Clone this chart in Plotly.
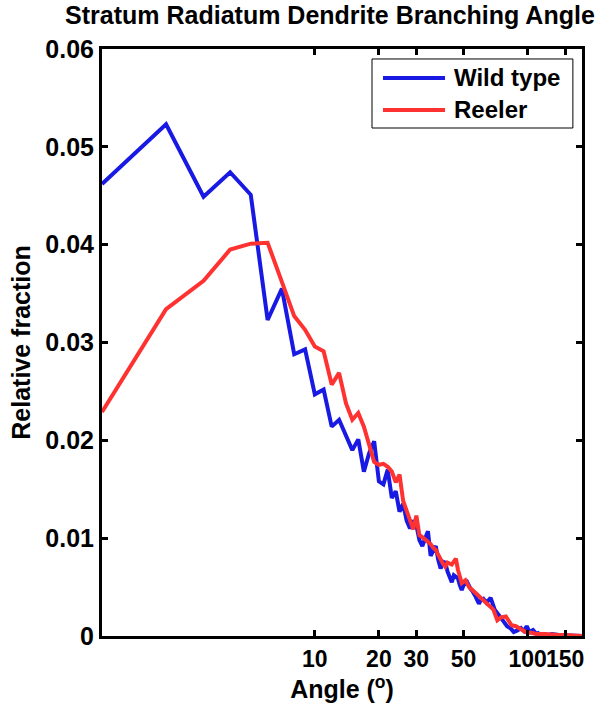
import plotly.graph_objects as go
import math

# Wild type (blue)
wt_angle = [1, 2, 3, 4, 5, 6, 7, 8, 9, 10, 11, 12, 13, 14, 15, 16, 17, 18, 19, 20,
            21, 22, 23, 24, 25, 26, 27, 28, 29, 30, 31, 32, 33, 34, 35, 36, 37, 38, 39, 40,
            41, 42, 43, 44, 45, 46, 47, 48, 49, 50, 52, 54, 55, 57, 59, 60, 62, 64, 67, 70,
            72, 74, 77, 80, 83, 86, 90, 93, 96, 99, 102, 106, 110, 112, 115, 120, 125, 130,
            140, 150, 160, 170, 180]
wt_frac = [0.0462, 0.0523, 0.0449, 0.0474, 0.0451, 0.0323, 0.0355, 0.0288, 0.0293, 0.0247,
           0.0252, 0.0214, 0.0221, 0.0206, 0.0190, 0.0201, 0.0168, 0.0187, 0.0199, 0.0158,
           0.0155, 0.0170, 0.0141, 0.0148, 0.0127, 0.0135, 0.0118, 0.0110, 0.0118, 0.0113,
           0.0098, 0.0092, 0.0100, 0.0107, 0.0082, 0.0088, 0.0092, 0.0078, 0.0069, 0.0076,
           0.0075, 0.0066, 0.0060, 0.0055, 0.0062, 0.0060, 0.0059, 0.0052, 0.0047, 0.0052,
           0.0055, 0.0048, 0.0046, 0.0040, 0.0033, 0.0036, 0.0038, 0.0034, 0.0039, 0.0027,
           0.0024, 0.0020, 0.0015, 0.0010, 0.0008, 0.0004, 0.0006, 0.0008, 0.0005, 0.0010,
           0.0004, 0.0006, 0.0002, 0.0003, 0.0001, 0.0002, 0.0001, 0.0002, 0.0001, 0.0001,
           0.0000, 0.0001, 0.0000]

# Reeler (red)
rl_angle = [1, 2, 3, 4, 5, 6, 7, 8, 9, 10, 11, 12, 13, 14, 15, 16, 17, 18, 19, 20,
            21, 22, 23, 24, 25, 26, 27, 28, 29, 30, 31, 32, 33, 34, 35, 36, 37, 38, 39, 40,
            41, 42, 44, 46, 47, 48, 49, 51, 53, 55, 57, 60, 62, 65, 67, 69, 72, 75, 79, 82,
            84, 88, 91, 95, 98, 105, 110, 120, 130, 140, 150, 160, 170, 180]
rl_frac = [0.0229, 0.0334, 0.0363, 0.0395, 0.0401, 0.0402, 0.0362, 0.0327, 0.0313, 0.0296,
           0.0291, 0.0257, 0.0269, 0.0238, 0.0221, 0.0228, 0.0214, 0.0194, 0.0178, 0.0175,
           0.0176, 0.0173, 0.0168, 0.0157, 0.0165, 0.0138, 0.0128, 0.0117, 0.0109, 0.0123,
           0.0103, 0.0101, 0.0099, 0.0097, 0.0094, 0.0090, 0.0088, 0.0083, 0.0078, 0.0074,
           0.0071, 0.0075, 0.0073, 0.0079, 0.0068, 0.0060, 0.0054, 0.0057, 0.0050, 0.0047,
           0.0044, 0.0040, 0.0037, 0.0032, 0.0030, 0.0027, 0.0016, 0.0019, 0.0020, 0.0014,
           0.0011, 0.0010, 0.0008, 0.0006, 0.0004, 0.0003, 0.0002, 0.0002, 0.0001, 0.0001,
           0.0001, 0.0001, 0.0000, 0.0000]

x_tickvals = [10, 20, 30, 50, 100, 150]
x_ticktext = ["10", "20", "30", "50", "100", "150"]
y_tickvals = [0, 0.01, 0.02, 0.03, 0.04, 0.05, 0.06]
y_ticktext = ["0", "0.01", "0.02", "0.03", "0.04", "0.05", "0.06"]

series_names = ["Wild type", "Reeler"]
BLUE = "rgb(25,25,228)"
RED = "rgb(255,50,50)"
FONT = "Liberation Sans, Arial, sans-serif"

fig = go.Figure()
fig.add_trace(go.Scatter(x=wt_angle, y=wt_frac, mode="lines", name=series_names[0],
                         line=dict(color=BLUE, width=4), showlegend=False))
fig.add_trace(go.Scatter(x=rl_angle, y=rl_frac, mode="lines", name=series_names[1],
                         line=dict(color=RED, width=4), showlegend=False))

axis_common = dict(showline=True, linecolor="black", linewidth=3, mirror="ticks",
                   ticks="inside", ticklen=6, tickwidth=3, tickcolor="black",
                   showgrid=False, zeroline=False, automargin=False)

fig.update_xaxes(type="log", range=[0, math.log10(180)], tickvals=x_tickvals,
                 ticktext=x_ticktext, tickangle=0,
                 tickfont=dict(family=FONT, size=23, color="black", weight="bold"),
                 title=dict(text="Angle (<sup>o</sup>)", standoff=2,
                            font=dict(family=FONT, size=25, color="black", weight="bold")),
                 **axis_common)
fig.update_yaxes(range=[0, 0.06], tickvals=y_tickvals, ticktext=y_ticktext,
                 tickfont=dict(family=FONT, size=25, color="black", weight="bold"),
                 title=dict(text="Relative fraction", standoff=8,
                            font=dict(family=FONT, size=25, color="black", weight="bold")),
                 **axis_common)

# Manual legend (box, line samples, labels) in paper coordinates
shapes = [dict(type="rect", xref="paper", yref="paper", x0=0.5625, x1=0.981,
               y0=0.8654, y1=0.983, line=dict(color="black", width=1),
               fillcolor="white", layer="above")]
legend_rows = [(0.9506, BLUE, series_names[0]), (0.8961, RED, series_names[1])]
annotations = []
for yy, col, name in legend_rows:
    shapes.append(dict(type="line", xref="paper", yref="paper", x0=0.5854, x1=0.7146,
                       y0=yy, y1=yy, line=dict(color=col, width=4), layer="above"))
    annotations.append(dict(xref="paper", yref="paper", x=0.73, y=yy, text=name,
                            showarrow=False, xanchor="left", yanchor="middle",
                            font=dict(family=FONT, size=24, color="black", weight="bold")))

fig.update_layout(
    width=611, height=708,
    margin=dict(l=102, r=29, t=49, b=72),
    paper_bgcolor="white", plot_bgcolor="white",
    title=dict(text="Stratum Radiatum Dendrite Branching Angle", x=0.54, xanchor="center",
               y=0.978, yanchor="middle",
               font=dict(family=FONT, size=25, color="black", weight="bold")),
    shapes=shapes, annotations=annotations,
)

fig.write_html("out.html")
